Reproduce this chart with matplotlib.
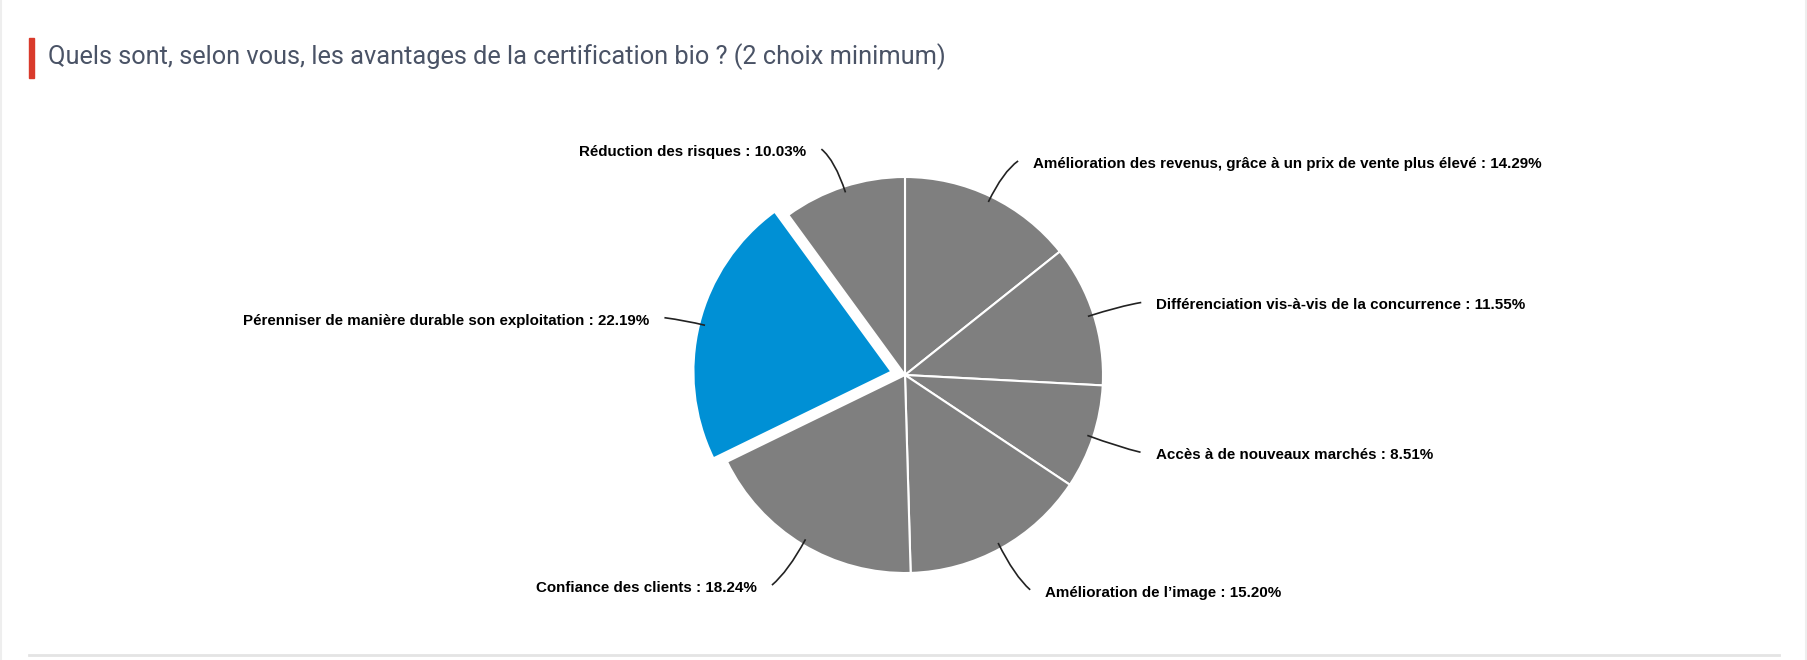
import numpy as np
import matplotlib
matplotlib.use("Agg")
from matplotlib import pyplot as plt
from matplotlib.path import Path
from matplotlib.patches import PathPatch, Rectangle

categories = [
    "Amélioration des revenus, grâce à un prix de vente plus élevé",
    "Différenciation vis-à-vis de la concurrence",
    "Accès à de nouveaux marchés",
    "Amélioration de l’image",
    "Confiance des clients",
    "Pérenniser de manière durable son exploitation",
    "Réduction des risques",
]
values = [14.29, 11.55, 8.51, 15.20, 18.24, 22.19, 10.03]
highlight = "Pérenniser de manière durable son exploitation"
title = "Quels sont, selon vous, les avantages de la certification bio ? (2 choix minimum)"

W, H = 1808, 660
fig = plt.figure(figsize=(W / 100, H / 100), dpi=100)
ax = fig.add_axes([0, 0, 1, 1])

center = (905, 285)
radius = 198
colors = ["#0090d5" if c == highlight else "#7f7f7f" for c in categories]
# explode est en unités absolues (pixels ici)
explode = [14 if c == highlight else 0 for c in categories]

wedges, _ = ax.pie(values, center=center, radius=radius, startangle=90,
                   counterclock=False, colors=colors, explode=explode,
                   wedgeprops=dict(edgecolor="white", linewidth=1.5))

# étiquettes avec connecteurs courbes
for w, name, v in zip(wedges, categories, values):
    mid = np.deg2rad((w.theta1 + w.theta2) / 2)
    ux, uy = np.cos(mid), np.sin(mid)
    cx, cy = w.center
    r = w.r
    side = 1 if ux >= 0 else -1
    drop = 8 * min(uy, 0)
    p0 = (cx + 0.97 * r * ux, cy + 0.97 * r * uy)
    p1 = (center[0] + 1.14 * r * ux, center[1] + 1.14 * r * uy + drop * 0.5)
    p2 = (center[0] + 1.2 * r * ux + side * 10, center[1] + 1.2 * r * uy + drop)
    path = Path([p0, p1, p2], [Path.MOVETO, Path.CURVE3, Path.CURVE3])
    ax.add_patch(PathPatch(path, fill=False, edgecolor="#222222", lw=1.2))
    ax.text(p2[0] + side * 15, p2[1] - 3, f"{name} : {v:.2f}%",
            ha="left" if side > 0 else "right", va="center",
            fontsize=10.9, fontweight="bold", family="Liberation Sans",
            color="#000000")

# titre et barre rouge
ax.add_patch(Rectangle((29, H - 78), 5, 40, color="#d93a2b"))
ax.text(48, H - 57, title, ha="left", va="center", fontsize=18.3,
        family="Roboto", color="#4a5366")

# séparateur bas
ax.plot([29, 1779], [H - 655, H - 655], color="#e4e4e4", lw=2)
ax.plot([1, 1], [0, H], color="#eeeeee", lw=1.5)
ax.plot([W - 2, W - 2], [0, H], color="#eeeeee", lw=1.5)

ax.set_xlim(0, W)
ax.set_ylim(0, H)
ax.axis("off")

fig.savefig("out.png", dpi=100)
